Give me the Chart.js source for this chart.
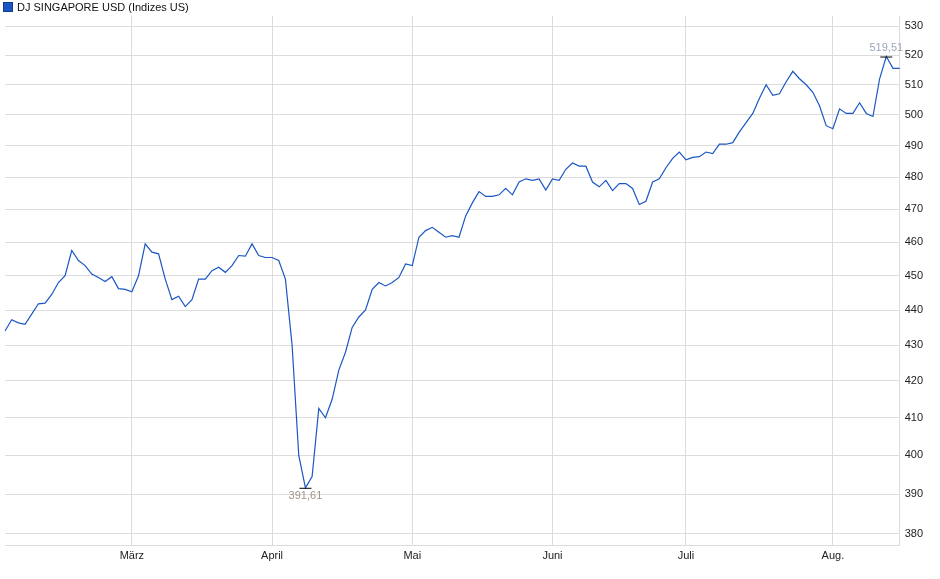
<!DOCTYPE html>
<html><head><meta charset="utf-8">
<script src="https://cdn.jsdelivr.net/npm/chart.js@4"></script>
<style>body{margin:0;background:#fff}#w{width:940px;height:579px;position:relative}
#lg{position:absolute;left:3px;top:0px;font:11px "Liberation Sans",Arial;color:#111;display:flex;align-items:center;height:13px}
#lg span{display:inline-block;width:8px;height:8px;background:#1a56c4;border:1px solid #123e90;margin-right:4px}</style>
</head><body><div id="w"><canvas id="c"></canvas><div id="lg"><span></span>DJ SINGAPORE USD (Indizes US)</div></div>
<script>
const values=[434,437.2,436.3,435.9,438.8,441.8,442,444.5,448,450,457.5,454.5,453,450.5,449.5,448.3,449.7,446.2,446,445.3,
450,459.5,457,456.5,449,443,444,441,443,449,449,451.5,452.5,451,453,456,455.8,459.5,456,455.4,
455.4,454.5,449,430,400,391.61,394.5,412.5,410,415,423,428,435,438,440,446,448,447,448,449.5,
453.5,453,461.5,463.5,464.5,463,461.5,462,461.5,468,472,475.5,474,474,474.5,476.5,474.5,478.5,479.5,479,
479.5,476,479.5,479,482.5,484.5,483.5,483.5,478.5,477,479,475.8,478,478,476.5,471.5,472.5,478.5,479.5,483,
486,488,485.5,486.3,486.5,488,487.5,490.5,490.5,491,494.5,497.5,500.5,505.5,510,506.5,507,511,514.5,512,
510,507.5,503,496.5,495.5,502,500.5,500.5,504,500.5,499.5,512,519.51,515.5,515.5];
const monthLabels={19:'März',40:'April',61:'Mai',82:'Juni',102:'Juli',124:'Aug.'};
const yTicks=[380,390,400,410,420,430,440,450,460,470,480,490,500,510,520,530];
const labels=values.map((v,i)=>String(i));
const minIdx=values.indexOf(Math.min(...values)), maxIdx=values.indexOf(Math.max(...values));
const fmt=v=>v.toFixed(2).replace('.',',');
const marks={id:'marks',afterDatasetsDraw(ch){const c=ch.ctx,x=ch.scales.x,y=ch.scales.y;
 c.save();c.font='11px "Liberation Sans", Arial';c.textAlign='center';
 [[minIdx,'#a0968a',1],[maxIdx,'#9aa6b8',-1]].forEach(([i,col,d])=>{const px=x.getPixelForValue(i),py=y.getPixelForValue(values[i]);
  c.strokeStyle='#000';c.lineWidth=1;c.beginPath();c.moveTo(px-6,py+0.5);c.lineTo(px+6,py+0.5);c.stroke();
  c.fillStyle=col;c.textBaseline=d>0?'top':'bottom';c.fillText(fmt(values[i]),px,py+d*3);});
 c.restore();}};
new Chart(document.getElementById('c'),{type:'line',
 data:{labels,datasets:[{label:'DJ SINGAPORE USD (Indizes US)',data:values,borderColor:'#1a56c4',backgroundColor:'#1a56c4',borderWidth:1.2,pointRadius:0,tension:0}]},
 options:{responsive:true,maintainAspectRatio:false,animation:false,
  layout:{padding:{left:5,right:12,top:16,bottom:12}},
  plugins:{legend:{display:false},tooltip:{enabled:false}},
  scales:{
   x:{offset:false,grid:{color:'#dcdcdc',drawTicks:false},border:{color:'#dcdcdc'},
      ticks:{autoSkip:false,maxRotation:0,padding:4,color:'#222',font:{size:11,family:'"Liberation Sans", Arial'},callback:(v,i)=>monthLabels[i]??null}},
   y:{type:'logarithmic',position:'right',min:377,max:533.5,grid:{color:'#dcdcdc',drawTicks:false},border:{color:'#dcdcdc'},
      afterBuildTicks:s=>{s.ticks=yTicks.map(v=>({value:v}));},
      ticks:{padding:5,color:'#222',font:{size:11,family:'"Liberation Sans", Arial'},callback:v=>String(v)}}
  }},plugins:[marks]});
</script></body></html>
